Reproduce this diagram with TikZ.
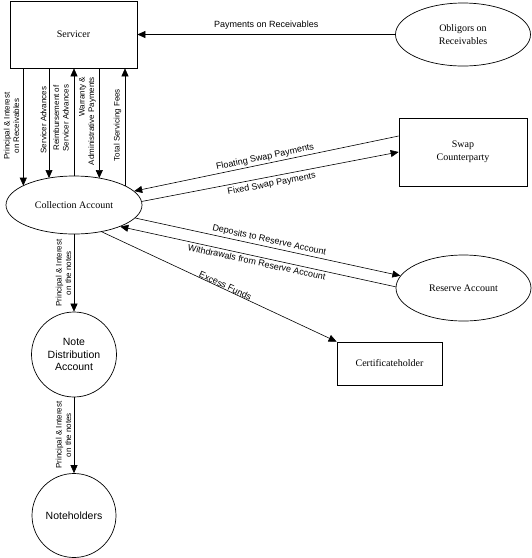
\documentclass[tikz,border=0pt]{standalone}
\usepackage{fontspec}
\setmainfont{Liberation Serif}
\setsansfont{Liberation Sans}
\usetikzlibrary{arrows.meta,shapes.geometric,calc}
\begin{document}
\begin{tikzpicture}[x=1pt,y=-1pt,
  box/.style={draw, rectangle, line width=0.7pt, inner sep=0pt, align=center, font=\fontsize{10}{12.5}\selectfont},
  oval/.style={draw, ellipse, line width=0.7pt, inner sep=0pt, align=center, font=\fontsize{10}{13.5}\selectfont},
  circ/.style={draw, circle, line width=0.7pt, inner sep=0pt, align=center, font=\sffamily\fontsize{10.5}{12.5}\selectfont},
  arr/.style={-{Triangle[length=8pt,width=7pt]}, line width=0.6pt},
  lbl/.style={font=\sffamily\fontsize{9}{10.5}\selectfont},
  vlbl/.style={font=\sffamily\fontsize{8}{9.5}\selectfont, rotate=90, align=center, inner sep=0pt},
]
\useasboundingbox (0,0) rectangle (532,558);

% shapes
\node[box, minimum width=127pt, minimum height=67pt] (serv) at (73.5,34.5) {Servicer};
\node[oval, minimum width=135pt, minimum height=63pt] (obl) at (463,34.5) {Obligors on\\Receivables};
\node[oval, minimum width=136pt, minimum height=58pt] (coll) at (74,205) {Collection Account};
\node[box, minimum width=128pt, minimum height=68pt] (swap) at (463,152) {Swap\\Counterparty};
\node[oval, minimum width=135pt, minimum height=66pt] (res) at (463.5,288) {Reserve Account};
\node[box, minimum width=105pt, minimum height=43pt] (cert) at (389.5,363.5) {Certificateholder};
\node[circ, minimum size=85pt] (nd) at (74,354.5) {Note\\Distribution\\Account};
\node[circ, minimum size=84pt] (nh) at (74,515.5) {Noteholders};

% obligors -> servicer
\draw[arr] (obl.west) -- (serv.east |- obl.west)
  node[lbl, midway, above, inner sep=4.5pt] {Payments on Receivables};

% servicer <-> collection
\coordinate (c1) at (23.3,185.7);
\coordinate (c2) at (49,178);
\coordinate (c4) at (99.3,178.1);
\coordinate (c5) at (125,185.8);
\draw[arr] (serv.south -| c1) -- (c1);
\draw[arr] (serv.south -| c2) -- (c2);
\draw[arr] (coll.north) -- (coll.north |- serv.south);
\draw[arr] (serv.south -| c4) -- (c4);
\draw[arr] (c5) -- (serv.south -| c5);

\node[vlbl] (l1) at (11.5,126) {Principal \& Interest\\on Receivables};
\node[vlbl] (l2) at (43.5,120) {Servicer Advances};
\node[vlbl] (l3) at (61,118) {Reimbursement of\\Servicer Advances};
\node[vlbl, align=right] (l4) at (87.5,121) {Warranty \&\\Administrative Payments};
\node[vlbl] (l5) at (117.5,125) {Total Servicing Fees};

% swap
\draw[arr] ($(swap.west)+(0,-16)$) -- (coll.13)
  node[lbl, midway, sloped, above, inner sep=2pt] {Floating Swap Payments};
\draw[arr] (coll.3) -- (swap.west)
  node[lbl, midway, sloped, below, inner sep=3pt] {Fixed Swap Payments};

% reserve
\draw[arr] (coll.-12) -- (res.169)
  node[lbl, midway, sloped, above, inner sep=2pt] {Deposits to Reserve Account};
\draw[arr] (res.179) -- (coll.-25)
  node[lbl, midway, sloped, below, inner sep=2pt] {Withdrawals from Reserve Account};

% certificateholder
\draw[arr] (coll.-44) -- (cert.north west)
  node[lbl, pos=0.52, sloped, above, inner sep=0pt] {Excess Funds};

% notes
\draw[arr] (coll.south) -- (nd.north);
\draw[arr] (nd.south) -- (nh.north);
\node[vlbl] (l6) at (63.5,273) {Principal \& Interest\\on the notes};
\node[vlbl] (l7) at (63.5,435) {Principal \& Interest\\on the notes};
\end{tikzpicture}
\end{document}
